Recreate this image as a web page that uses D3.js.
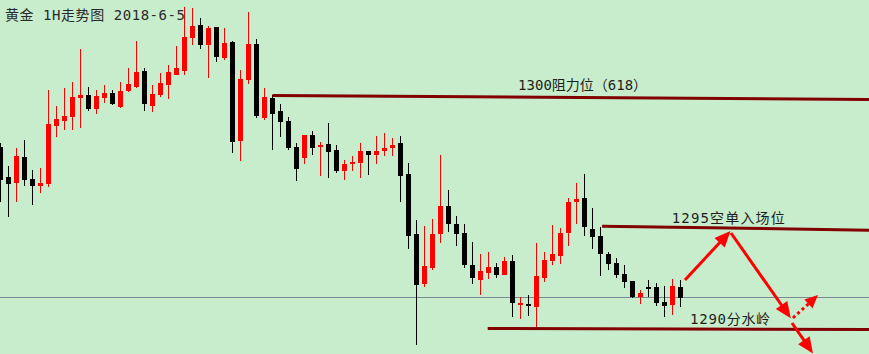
<!DOCTYPE html>
<html><head><meta charset="utf-8">
<script src="https://cdn.jsdelivr.net/npm/d3@7/dist/d3.min.js"></script>
<style>html,body{margin:0;padding:0;background:#C7EDCC;overflow:hidden}svg{display:block}</style>
</head><body>
<svg id="chart" width="869" height="354"></svg>
<script>
// ---- data (1H gold candles) ----
const opens = [
1297.50,1296.00,1295.70,1297.00,1295.90,1295.55,1295.65,1298.55,1298.80,1299.00,
1299.95,1300.10,1299.40,1299.95,1300.20,1299.50,1300.30,1300.50,1301.30,1299.55,
1300.10,1300.60,1301.10,1301.30,1302.95,1303.60,1302.60,1303.50,1301.95,1302.75,
1297.80,1300.85,1302.65,1298.95,1299.95,1299.30,1298.80,1297.50,1296.95,1298.10,
1297.50,1297.65,1297.35,1296.30,1296.65,1296.70,1297.30,1297.10,1297.30,1297.45,
1297.70,1296.15,1293.15,1290.65,1291.45,1293.15,1294.55,1293.65,1293.20,1291.60,
1290.85,1291.20,1291.50,1291.10,1291.80,1289.65,1289.65,1289.50,1290.95,1291.80,
1292.05,1293.20,1294.75,1294.95,1293.40,1293.05,1292.15,1291.70,1291.15,1290.80,
1290.00,1290.50,1290.50,1289.75,1289.60,1290.50];
const highs = [
1297.70,1296.55,1297.45,1297.85,1296.35,1296.45,1300.35,1299.55,1300.45,1300.75,
1302.40,1300.50,1300.35,1300.60,1300.35,1300.75,1301.45,1302.80,1301.45,1300.60,
1301.20,1301.60,1302.55,1304.50,1304.45,1303.95,1303.55,1303.50,1303.45,1302.80,
1301.35,1304.25,1302.90,1300.45,1300.10,1299.65,1299.00,1297.70,1298.10,1298.30,
1297.75,1298.70,1297.60,1296.85,1297.05,1297.70,1297.30,1298.05,1298.20,1297.95,
1298.05,1296.70,1293.85,1293.55,1293.90,1297.10,1295.35,1294.05,1293.65,1292.75,
1292.15,1292.25,1291.70,1292.00,1292.10,1290.00,1290.10,1292.70,1292.25,1293.60,
1293.45,1294.95,1295.70,1296.15,1294.45,1293.50,1292.25,1291.95,1291.60,1290.80,
1290.35,1290.85,1290.70,1290.55,1290.90,1290.85];
const lows = [
1294.75,1294.00,1294.75,1295.55,1294.60,1295.20,1295.50,1298.00,1298.35,1298.35,
1298.45,1299.30,1299.15,1299.70,1299.60,1299.45,1300.25,1300.45,1299.30,1299.25,
1300.00,1299.90,1301.10,1301.10,1302.60,1302.40,1300.95,1301.75,1301.85,1297.20,
1296.80,1300.65,1298.95,1298.85,1297.35,1298.00,1297.35,1295.80,1296.65,1297.10,
1296.05,1295.95,1296.20,1295.85,1296.30,1295.95,1296.10,1296.65,1297.05,1297.05,
1294.75,1292.40,1287.60,1290.50,1291.35,1292.70,1293.25,1292.55,1291.45,1290.65,
1290.10,1290.90,1290.95,1291.10,1289.00,1288.90,1289.05,1288.45,1290.75,1291.60,
1291.65,1292.55,1293.65,1293.05,1292.40,1291.05,1291.35,1290.95,1290.45,1289.95,
1289.65,1290.00,1289.55,1289.00,1289.10,1289.50];
const closes = [
1295.85,1295.65,1297.05,1295.85,1295.55,1295.70,1298.65,1298.90,1299.05,1300.00,
1300.10,1299.40,1300.05,1300.20,1299.65,1300.30,1300.65,1301.25,1299.65,1300.15,
1300.70,1301.25,1301.45,1303.00,1303.55,1302.60,1303.45,1302.00,1302.70,1297.75,
1300.90,1302.65,1299.05,1300.00,1299.15,1298.75,1297.45,1296.40,1298.10,1297.45,
1297.60,1297.25,1296.30,1296.65,1296.75,1297.30,1297.10,1297.30,1297.45,1297.60,
1296.05,1293.05,1290.60,1291.55,1293.15,1294.55,1293.65,1293.15,1291.60,1290.95,
1291.30,1291.50,1291.10,1291.80,1289.70,1289.70,1289.55,1291.05,1291.85,1292.15,
1293.20,1294.75,1294.90,1293.50,1293.00,1292.15,1291.65,1291.10,1290.75,1290.00,
1290.20,1290.40,1289.70,1289.55,1290.55,1289.95];

const titleText = "黄金 1H走势图 2018-6-5";
const currentPrice = 1289.98;

// key levels drawn by the analyst (bar index, price)
const levelLabels   = ["1300阻力位（618）", "1295空单入场位", "1290分水岭"];
const levelStartIdx = [34.0, 75.2, 60.9];
const levelEndIdx   = [108.6, 108.6, 108.6];
const levelStartPx  = [1300.08, 1293.54, 1288.43];
const levelEndPx    = [1299.88, 1293.34, 1288.37];
const labelIdx      = [64.7, 83.9, 86.2];
const labelPx       = [1300.35, 1293.68, 1288.65];
const labelWidths   = [129, 113, 80];

// projected path arrows (bar index, price)
const arrowFromIdx = [85.56, 91.31, 99.06, 98.94];
const arrowFromPx  = [1290.85, 1293.20, 1288.95, 1288.70];
const arrowToIdx   = [91.25, 98.78, 102.19, 101.56];
const arrowToPx    = [1293.30, 1288.94, 1290.10, 1287.18];
const arrowDashed  = [false, false, true, false];

// ---- drawing ----
const W = 869, H = 354;
const svg = d3.select("#chart");
svg.append("rect").attr("width", W).attr("height", H).attr("fill", "#C7EDCC");

const x = d3.scaleLinear().domain([0, 100]).range([0.5, 800.5]);
const y = d3.scaleLinear().domain([1287.15, 1304.85]).range([H, 0]);

// current price line
svg.append("line")
  .attr("x1", 0).attr("x2", W)
  .attr("y1", Math.round(y(currentPrice)) + 0.5).attr("y2", Math.round(y(currentPrice)) + 0.5)
  .attr("stroke", "#7b8a94").attr("stroke-width", 1);

const candles = opens.map((o, i) => ({i, o, h: highs[i], l: lows[i], c: closes[i]}));
const g = svg.append("g").attr("shape-rendering", "crispEdges");
const col = d => d.c >= d.o ? "#FF0000" : "#000000";

g.selectAll("line.wick").data(candles).join("line")
  .attr("class", "wick")
  .attr("x1", d => x(d.i)).attr("x2", d => x(d.i))
  .attr("y1", d => y(d.h)).attr("y2", d => y(d.l))
  .attr("stroke", col).attr("stroke-width", 1);

g.selectAll("rect.body").data(candles).join("rect")
  .attr("class", "body")
  .attr("x", d => x(d.i) - 2.5)
  .attr("width", 5)
  .attr("y", d => y(Math.max(d.o, d.c)))
  .attr("height", d => Math.max(2, Math.abs(y(d.o) - y(d.c))))
  .attr("fill", col);

// level lines
levelLabels.forEach((t, k) => {
  svg.append("line")
    .attr("x1", x(levelStartIdx[k])).attr("y1", y(levelStartPx[k]))
    .attr("x2", x(levelEndIdx[k])).attr("y2", y(levelEndPx[k]))
    .attr("stroke", "#820000").attr("stroke-width", 3);
  svg.append("text")
    .attr("x", x(labelIdx[k])).attr("y", y(labelPx[k]))
    .attr("font-family", "'DejaVu Sans Mono','Noto Sans CJK SC',sans-serif")
    .attr("font-size", 14)
    .attr("fill", "#1e1e1e")
    .attr("textLength", labelWidths[k]).attr("lengthAdjust", "spacing")
    .text(t);
});

// arrows
arrowFromIdx.forEach((_, k) => {
  const x1 = x(arrowFromIdx[k]), y1 = y(arrowFromPx[k]);
  const x2 = x(arrowToIdx[k]), y2 = y(arrowToPx[k]);
  const dx = x2 - x1, dy = y2 - y1, len = Math.hypot(dx, dy);
  const ux = dx / len, uy = dy / len;
  const L = arrowDashed[k] ? 13 : 16, hw = arrowDashed[k] ? 6 : 7;
  const bx = x2 - ux * L, by = y2 - uy * L;
  svg.append("line")
    .attr("x1", x1).attr("y1", y1).attr("x2", bx + ux * 2).attr("y2", by + uy * 2)
    .attr("stroke", "#FF0000").attr("stroke-width", 3)
    .attr("stroke-dasharray", arrowDashed[k] ? "3,3" : null);
  svg.append("polygon")
    .attr("points", [[x2, y2], [bx - uy * hw, by + ux * hw], [bx + uy * hw, by - ux * hw]].map(p => p.join(",")).join(" "))
    .attr("fill", "#FF0000");
});

// title
svg.append("text")
  .attr("x", 5).attr("y", 20)
  .attr("font-family", "'DejaVu Sans Mono','Noto Sans CJK SC',sans-serif")
  .attr("font-size", 14)
  .attr("fill", "#2a2a2a")
  .attr("textLength", 180).attr("lengthAdjust", "spacing")
  .text(titleText);
</script>
</body></html>
